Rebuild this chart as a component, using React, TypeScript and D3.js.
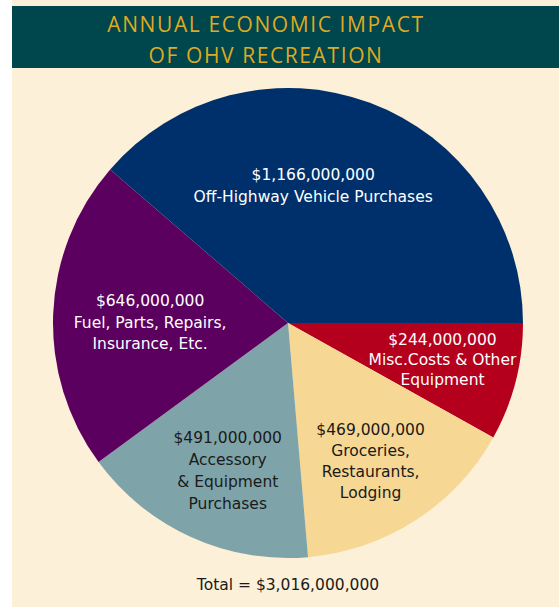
import { useEffect, useRef } from "react";
import * as d3 from "d3";

// Annual economic impact of OHV recreation, in dollars
const categories = [
  "Misc. Costs & Other Equipment",
  "Groceries, Restaurants, Lodging",
  "Accessory & Equipment Purchases",
  "Fuel, Parts, Repairs, Insurance, Etc.",
  "Off-Highway Vehicle Purchases",
];
const values = [244000000, 469000000, 491000000, 646000000, 1166000000];
const labelLines = [
  ["Misc.Costs & Other", "Equipment"],
  ["Groceries,", "Restaurants,", "Lodging"],
  ["Accessory", "& Equipment", "Purchases"],
  ["Fuel, Parts, Repairs,", "Insurance, Etc."],
  ["Off-Highway Vehicle Purchases"],
];
const titleLines = ["ANNUAL ECONOMIC IMPACT", "OF OHV RECREATION"];

const W = 559;
const H = 607;
const colors = ["#b4001d", "#f6d794", "#7ea4a9", "#5b005f", "#00306b"];
const textColors = ["#fff", "#1a1a1a", "#1a1a1a", "#fff", "#fff"];
// label nudges from the slice centroid: [dx, first baseline dy, line height]
const labelNudge = [
  [18, -13, 20],
  [6, -6, 21],
  [-2, -8, 22],
  [3, -11, 21.5],
  [-24, -11, 22],
];
const font = "'DejaVu Sans', sans-serif";

const money = (v: number) => "$" + d3.format(",")(v);

const App = () => {
  const svgRef = useRef<SVGSVGElement>(null);

  useEffect(() => {
    const svg = d3.select(svgRef.current);
    svg.selectAll("*").remove();

    svg.append("rect").attr("x", 12).attr("y", 0).attr("width", W - 12).attr("height", H).attr("fill", "#fdf0d8");
    svg.append("rect").attr("x", 12).attr("y", 6).attr("width", W - 12).attr("height", 62).attr("fill", "#00464d");

    svg.append("text")
      .attr("x", 266)
      .attr("text-anchor", "middle")
      .attr("font-family", "'Open Sans', sans-serif")
      .attr("font-size", 21)
      .attr("font-weight", 500)
      .attr("letter-spacing", 1.6)
      .attr("fill", "#dfa923")
      .selectAll("tspan")
      .data(titleLines)
      .join("tspan")
      .attr("x", 266)
      .attr("y", (_, i) => 32 + i * 31)
      .text(d => d);

    const cx = 288, cy = 323, r = 235;
    const g = svg.append("g").attr("transform", `translate(${cx},${cy})`);

    const pie = d3.pie<number>()
      .sort(null)
      .startAngle(Math.PI / 2)
      .endAngle(Math.PI / 2 + 2 * Math.PI)(values);

    const arc = d3.arc<d3.PieArcDatum<number>>().innerRadius(0).outerRadius(r);
    const labelArc = d3.arc<d3.PieArcDatum<number>>().innerRadius(r * 0.6).outerRadius(r * 0.6);

    g.selectAll("path")
      .data(pie)
      .join("path")
      .attr("d", arc)
      .attr("fill", (_, i) => colors[i])
      .append("title")
      .text((_, i) => categories[i]);

    pie.forEach((d, i) => {
      const [x, y] = labelArc.centroid(d);
      const [dx, dy, lh] = labelNudge[i];
      const lines = [money(values[i]), ...labelLines[i]];
      g.append("text")
        .attr("text-anchor", "middle")
        .attr("font-family", font)
        .attr("font-size", 15.5)
        .attr("fill", textColors[i])
        .selectAll("tspan")
        .data(lines)
        .join("tspan")
        .attr("x", x + dx)
        .attr("y", (_, j) => y + dy + j * lh)
        .text(t => t);
    });

    svg.append("text")
      .attr("x", cx)
      .attr("y", 590)
      .attr("text-anchor", "middle")
      .attr("font-family", font)
      .attr("font-size", 15.5)
      .attr("fill", "#1a1a1a")
      .text("Total = " + money(d3.sum(values)));
  }, []);

  return <svg ref={svgRef} width={W} height={H} style={{ display: "block", position: "absolute", left: 0, top: 0 }} />;
};

export default App;
